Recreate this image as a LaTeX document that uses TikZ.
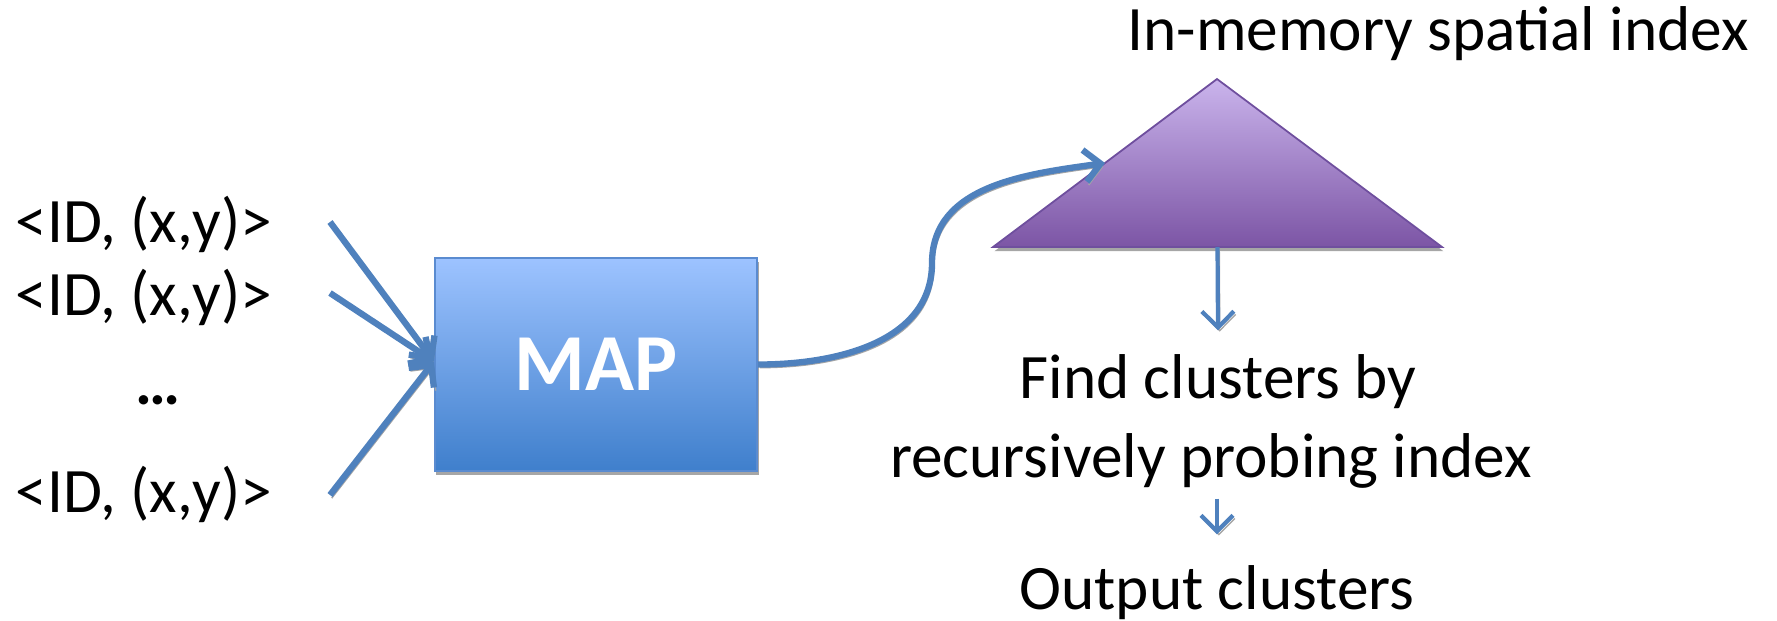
\documentclass[tikz,border=0pt]{standalone}
\usepackage{fontspec}
\setmainfont{Carlito}
\usetikzlibrary{arrows.meta,shadows,calc}

\definecolor{flowblue}{HTML}{4F81BD}
\definecolor{boxtop}{HTML}{9DC3FF}
\definecolor{boxbot}{HTML}{3F7FCC}
\definecolor{boxedge}{HTML}{5A8BD0}
\definecolor{tritop}{HTML}{CAB4EC}
\definecolor{tribot}{HTML}{7C55A5}
\definecolor{triedge}{HTML}{6F4F9E}

\tikzset{
	txt/.style={font=\fontsize{18}{22}\selectfont, inner sep=0pt},
	flow/.style={draw=flowblue, line width=1.8pt, -{Straight Barb[length=1.6mm,width=3.2mm]},
		preaction={draw=black!35, transform canvas={shift={(0.5pt,-0.9pt)}}}},
	thinflow/.style={flow, line width=1.2pt},
	mapbox/.style={draw=boxedge, line width=0.6pt, top color=boxtop, bottom color=boxbot,
		minimum width=3.22cm, minimum height=2.13cm, inner sep=0pt, text=white,
		font=\fontsize{23}{28}\selectfont\bfseries,
		drop shadow={shadow xshift=0.4pt, shadow yshift=-1.2pt, fill=black, opacity=0.35}},
	idxtri/.style={draw=triedge, line width=0.5pt, top color=tritop, bottom color=tribot,
		drop shadow={shadow xshift=0.4pt, shadow yshift=-1.2pt, fill=black, opacity=0.35}}
}

\begin{document}
\begin{tikzpicture}[x=0.01cm, y=-0.01cm]
			\useasboundingbox (0,0) rectangle (1777,620);
			\node[txt, anchor=base west] (id1) at (15,242) {<ID, (x,y)>};
			\node[txt, anchor=base west] (id2) at (15,315) {<ID, (x,y)>};
			\node[txt, font=\fontsize{18}{22}\selectfont\bfseries] (dots) at (158,400) {…};
			\node[txt, anchor=base west] (id3) at (15,512) {<ID, (x,y)>};
			\coordinate (in1) at (330,222);
			\coordinate (in2) at (330,293);
			\coordinate (in3) at (330,495);
			\node[mapbox] (map) at (596,364.5) {MAP};
			\foreach \c in {in1,in2,in3}
				\draw[flow] (\c) -- ([yshift=0.03cm]map.west);
			\path[idxtri] (993,247) coordinate (baseL) -- (1217,79) coordinate (apex) -- (1442,247) coordinate (baseR) -- cycle;
			\coordinate (idxin) at ($(baseL)!0.5!(apex)$);
			\coordinate (idxout) at ($(baseL)!0.5!(baseR)$);
			\coordinate (bend) at (932,263);
			\node[txt, anchor=base] (title) at (1438,50) {In-memory spatial index};
			\draw[flow] (map.east) to[out=0,in=-90] (bend) to[out=90,in=188] (idxin);
			\node[txt, anchor=base] (find1) at (1218,398) {Find clusters by};
			\node[txt, anchor=base] (find2) at (1211,477) {recursively probing index};
			\node[txt, anchor=base] (out) at (1217,609) {Output clusters};
			\draw[thinflow] (idxout) -- ([yshift=0.23cm]find1.north);
			\draw[thinflow] ([yshift=-0.1cm]find2.south -| out.north) -- ([yshift=0.3cm]out.north);
		\end{tikzpicture}
\end{document}
